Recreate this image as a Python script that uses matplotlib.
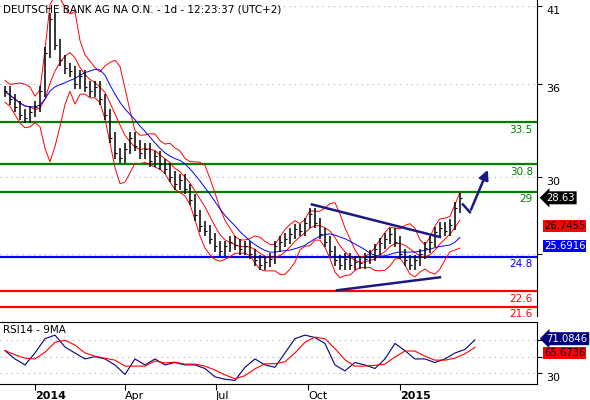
import numpy as np
import pandas as pd
import matplotlib
matplotlib.use("Agg")
import matplotlib.pyplot as plt

# closes, ~every 5 calendar days
close = [35.5, 35, 34.5, 34, 33.8, 34.2, 34.5, 35.5, 38, 40.2, 38.5, 37.5, 37, 36.8, 36, 36.5,
         35.8, 35.5, 35.8, 35, 34, 32.5, 31.5, 31.2, 31.8, 32.5, 32, 31.5, 31.8, 31, 31.3, 30.8,
         30.5, 30, 29.5, 29.8, 29.2, 28.5, 27.5, 26.8, 26.5, 26, 25.5, 25.2, 25.5, 25.8, 25.6,
         25.3, 25.5, 25, 24.6, 24.3, 24.5, 24.7, 25.5, 25.8, 26, 26.3, 26.6, 26.5, 27, 27.6, 27,
         26.3, 25.8, 25.2, 24.6, 24.3, 24.7, 24.3, 24.5, 24.4, 24.7, 24.9, 25.3, 25.7, 26, 26.3,
         25.8, 25, 24.6, 24.3, 24.6, 25, 25.4, 25.8, 26.4, 26.7, 26.5, 26.9, 28, 28.6]
dates = pd.date_range("2013-12-02", periods=len(close), freq="5D")

rsi = [62, 55, 50, 60, 72, 75, 65, 60, 55, 57, 55, 50, 42, 55, 50, 55, 50, 52, 50, 50, 47, 40,
       38, 37, 48, 55, 50, 48, 60, 72, 75, 73, 68, 50, 45, 52, 50, 47, 55, 68, 62, 55, 55, 52,
       55, 60, 63, 71]
rsi_dates = pd.date_range("2013-12-02", periods=len(rsi), freq="10D")

levels_green = [33.5, 30.8, 29]
levels_blue = [24.8]
levels_red = [22.6, 21.6]

s = pd.Series(close, index=dates)
mid = s.rolling(6, min_periods=1).mean()
sd = s.rolling(6, min_periods=2).std().bfill()
upper, lower = mid + 2 * sd, mid - 2 * sd
ma_slow = s.rolling(12, min_periods=1).mean()
r = pd.Series(rsi, index=rsi_dates)
rsi_ma = r.rolling(3, min_periods=1).mean()

t0 = pd.Timestamp("2013-11-27")
def px(x):
    return t0 + pd.Timedelta(days=x)

fig = plt.figure(figsize=(5.9, 4), dpi=100)
ax = fig.add_axes([0.0, 0.21, 0.910, 0.79])
ax2 = fig.add_axes([0.0, 0.04, 0.910, 0.155], sharex=ax)
xmin, xmax = px(0), px(537)

for lvs, col in [(levels_green, "#008000"), (levels_blue, "#0000ff"), (levels_red, "#ff0000")]:
    for lv in lvs:
        ax.axhline(lv, color=col, lw=1.6)
        ax.text(px(533), lv - 0.15, f"{lv:g}", color=col, ha="right", va="top", fontsize=7.5)

ax.plot(dates, upper, color="#ff0000", lw=0.7)
ax.plot(dates, lower, color="#ff0000", lw=0.7)
ax.plot(dates, mid, color="#ff0000", lw=0.7)
ax.plot(dates, ma_slow, color="#0000ff", lw=0.7)
prev = [close[0]] + close[:-1]
hi = [max(a, b) + 0.35 for a, b in zip(prev, close)]
lo = [min(a, b) - 0.35 for a, b in zip(prev, close)]
ax.vlines(dates, lo, hi, color="black", lw=1.1)
ax.hlines(close, dates, dates + pd.Timedelta(days=2), color="black", lw=0.8)

# triangle lines and arrow
ax.plot([px(312), px(440)], [28.2, 26.1], color="#1a1a80", lw=1.8)
ax.plot([px(337), px(440)], [22.66, 23.5], color="#1a1a80", lw=1.8)
ax.plot([px(463), px(470)], [28.2, 27.7], color="#1a1a80", lw=1.8)
ax.annotate("", xy=(px(489), 30.6), xytext=(px(470), 27.7),
            arrowprops=dict(arrowstyle="-|>", color="#1a1a80", lw=1.8, mutation_scale=14))

ax.set_xlim(xmin, xmax)
ax.set_ylim(21.0, 41.4)
ax.yaxis.tick_right()
ax.set_yticks([25, 30, 36, 41])
ax.set_yticklabels(["", "30", "36", "41"], fontsize=8, va="top")
for v in [25, 30, 36, 41]:
    ax.axhline(v, color="#aaaaaa", lw=0.8, ls=(0, (1, 4)), zorder=0)
ax.tick_params(axis="x", bottom=False, labelbottom=False)
for sp in ["left", "top", "bottom"]:
    ax.spines[sp].set_visible(False)
ax.text(0.005, 0.985, "DEUTSCHE BANK AG NA O.N. - 1d - 12:23:37 (UTC+2)", transform=ax.transAxes,
        fontsize=7.5, va="top")

def tag(a, y, text, fc, tc, arrow=False):
    style = "larrow,pad=0.15" if arrow else "square,pad=0.1"
    a.annotate(text, xy=(1.0, y), xycoords=("axes fraction", "data"), xytext=(7 if arrow else 5, 0),
               textcoords="offset points", va="center", fontsize=7.2, color=tc,
               bbox=dict(boxstyle=style, fc=fc, lw=0), annotation_clip=False)

tag(ax, 28.63, "28.63", "black", "white", arrow=True)
tag(ax, 26.78, "26.7455", "#ff0000", "black")
tag(ax, 25.55, "25.6916", "#0000ff", "white")

ax2.plot(rsi_dates, r, color="#000080", lw=0.8)
ax2.plot(rsi_dates, rsi_ma, color="#ff0000", lw=0.8)
ax2.set_ylim(34, 86)
ax2.yaxis.tick_right()
ax2.set_yticks([43, 57, 71])
ax2.set_yticklabels(["30", "", ""], fontsize=8, va="top")
for v in [43, 57, 71]:
    ax2.axhline(v, color="#aaaaaa", lw=0.8, ls=(0, (1, 4)), zorder=0)
ax2.text(0.005, 0.95, "RSI14 - 9MA", transform=ax2.transAxes, fontsize=7.5, va="top")
tag(ax2, 72, "71.0846", "#000080", "white", arrow=True)
tag(ax2, 60, "65.6736", "#ff0000", "black")
ax2.spines["left"].set_visible(False)

ticks = [pd.Timestamp(d) for d in ["2014-01-01", "2014-04-01", "2014-07-01", "2014-10-01", "2015-01-01"]]
ax2.set_xticks(ticks)
labs = ax2.set_xticklabels(["2014", "Apr", "Jul", "Oct", "2015"], fontsize=8, ha="left")
labs[0].set_fontweight("bold")
labs[4].set_fontweight("bold")
ax2.tick_params(axis="x", pad=1, length=4)

fig.savefig("out.png", dpi=100)
